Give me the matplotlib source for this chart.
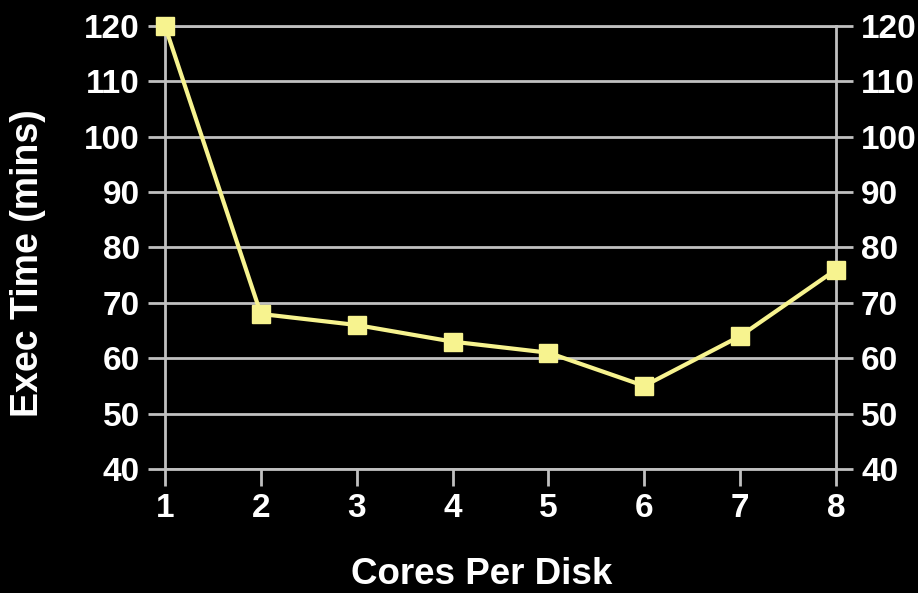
import matplotlib
matplotlib.use("Agg")
import matplotlib.pyplot as plt

# Execution time versus number of cores per disk
cores = [1, 2, 3, 4, 5, 6, 7, 8]
exec_minutes = [120, 68, 66, 63, 61, 55, 64, 76]
y_ticks = [40, 50, 60, 70, 80, 90, 100, 110, 120]

plt.rcParams['font.family'] = ['Liberation Sans', 'DejaVu Sans']
plt.rcParams['font.weight'] = 'bold'

grid_col = '#c0c0c0'
line_col = '#f7f38f'

fig = plt.figure(figsize=(9.18, 5.93), dpi=100, facecolor='black')
ax = fig.add_axes([165 / 918, 1 - 469 / 593, 671 / 918, 443 / 593])
ax.set_facecolor('black')

ax.plot(cores, exec_minutes, color=line_col, lw=3, marker='s', ms=13,
        markerfacecolor=line_col, markeredgecolor=line_col, zorder=3,
        clip_on=False)

ax.set_xlim(1, 8)
ax.set_ylim(40, 120)
ax.set_xticks(cores)
ax.set_yticks(y_ticks)
ax.yaxis.grid(True, color=grid_col, lw=2)
ax.set_axisbelow(True)

for side in ['left', 'right', 'bottom', 'top']:
    ax.spines[side].set_color(grid_col)
    ax.spines[side].set_linewidth(2)

ax.tick_params(axis='both', colors=grid_col, labelcolor='white',
               labelsize=24, length=12, width=2, direction='out')
ax.tick_params(axis='y', which='both', right=True, labelright=True, pad=6)
ax.tick_params(axis='x', pad=5)

ax.set_xlabel('Cores Per Disk', fontsize=26.5, fontweight='bold', color='white')
ax.xaxis.set_label_coords((482 - 165) / 671, (469 - 574) / 443)
ax.xaxis.label.set_va('center')

ax.set_ylabel('Exec Time (mins)', fontsize=27, fontweight='bold', color='white')
ax.yaxis.set_label_coords((28 - 165) / 671, (469 - 263) / 443)
ax.yaxis.label.set_va('center')
ax.yaxis.label.set_ha('center')

fig.savefig('out.png', dpi=100, facecolor='black')
